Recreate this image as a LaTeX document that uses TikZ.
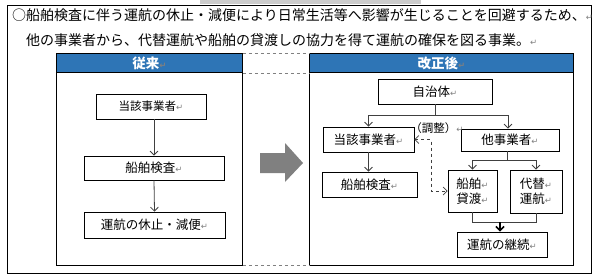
\documentclass[tikz,border=0pt]{standalone}
\usepackage{fontspec}
\usepackage{tikz}
\usetikzlibrary{arrows.meta}
\setmainfont{Noto Sans CJK JP}
\newfontfamily\markfont{DejaVu Sans}
\definecolor{header}{RGB}{46,117,182}
\definecolor{bigarrow}{RGB}{128,128,128}
\definecolor{topbar}{RGB}{204,204,204}
\newcommand{\rt}{{\color{gray}\markfont\fontsize{8.5}{8.5}\selectfont ↵}}

\begin{document}
\begin{tikzpicture}[x=1pt,y=-1pt,
    box/.style={draw,line width=0.8pt,inner sep=0pt,align=center,
                font=\fontsize{12.5}{15}\selectfont},
    head/.style={draw,line width=0.8pt,fill=header,inner sep=0pt,anchor=north west,
                 minimum height=19pt,text=white,font=\fontsize{13.5}{15}\selectfont\bfseries},
    link/.style={draw=black!75,line width=0.8pt,-{Straight Barb[length=4pt,width=8pt]}},
    line/.style={draw=black!75,line width=0.8pt}
    ]
    \useasboundingbox (0,0) rectangle (596,276);
    \fill[topbar] (200,0) rectangle (421,4);
    \draw[line width=0.8pt] (7,5) rectangle (591,273);

    % text lines
    \node[anchor=west,inner sep=0pt,font=\fontsize{14}{16}\selectfont] (line1) at (12,15)
        {○船舶検査に伴う運航の休止・減便により日常生活等へ影響が生じることを回避するため、\rt};
    \node[anchor=west,inner sep=0pt,font=\fontsize{14}{16}\selectfont] (line2) at (26,40)
        {他の事業者から、代替運航や船舶の貸渡しの協力を得て運航の確保を図る事業。\rt};

    % panels
    \node[head,minimum width=186pt] (oldhead) at (56,53) {従来\rt};
    \node[head,minimum width=264pt] (newhead) at (309,53) {改正後\rt};
    \draw[line width=0.8pt] (oldhead.south west) -- (56,265) coordinate (oldbot) -| (oldhead.south east);
    \draw[line width=0.8pt] (newhead.south west) -- (309,265) coordinate (newbot) -| (newhead.south east);
    \draw[gray,dashed] (oldhead.north east) -- (newhead.north west);
    \draw[gray,dashed] (oldhead.south east) -- (newhead.south west);
    \draw[gray,dashed] (oldbot -| oldhead.east) -- (newbot);

    % before
    \node[box,minimum width=110pt,minimum height=25pt,font=\fontsize{11.5}{13}\selectfont] (oldop) at (151,106.5) {当該事業者\rt};
    \node[box,minimum width=140pt,minimum height=24pt] (oldcheck) at (154,168) {船舶検査\rt};
    \node[box,minimum width=141pt,minimum height=26pt] (oldstop) at (154.5,225) {運航の休止・減便\rt};
    \draw[link] (oldop.south -| oldcheck.north) -- (oldcheck.north);
    \draw[link] (oldcheck.south) -- (oldstop.north);

    \fill[bigarrow] (260,153) -- (285,153) -- (285,143) -- (303,163) -- (285,182)
        -- (285,173) -- (260,173) -- cycle;

    % after
    \node[box,minimum width=114pt,minimum height=25pt] (city) at (435,91.5) {自治体\rt};
    \node[box,minimum width=91pt,minimum height=25pt] (newop) at (368.5,139.5) {当該事業者\rt};
    \node[box,minimum width=98pt,minimum height=22pt] (other) at (510,140) {他事業者\rt};
    \node[box,minimum width=95pt,minimum height=25pt] (newcheck) at (369.5,184.5) {船舶検査\rt};
    \node[box,minimum width=49pt,minimum height=42pt] (lend) at (472.5,191) {船舶\rt\\貸渡\rt};
    \node[box,minimum width=52pt,minimum height=43pt] (subst) at (536,191.5) {代替\rt\\運航\rt};
    \node[box,minimum width=90pt,minimum height=25pt] (keep) at (502,244.5) {運航の継続\rt};

    \draw[line] (city.south) -- ++(0,11) coordinate (split1);
    \draw[link] (split1) -| (newop.north);
    \draw[link] (split1) -| ([xshift=-2pt]other.north);
    \draw[link] (newop.south) -- (newop.south |- newcheck.north);
    \draw[line] ([xshift=-3pt]other.south) -- ++(0,9) coordinate (split2);
    \draw[link] (split2) -| (lend.north);
    \draw[link] (split2) -| (subst.north);
    \draw[line] (lend.south) -- ++(0,10) coordinate (merge) -| (subst.south);
    \draw[link,line width=1.6pt,draw=black] (merge -| keep.north) ++(-2,0) -- ([xshift=-2pt]keep.north);
    \coordinate (adjust) at (431,140);
    \draw[link,dashed,line width=0.7pt,{Straight Barb[length=4pt,width=8pt]}-{Straight Barb[length=4pt,width=8pt]}]
        (newop.east) -- (newop.east -| adjust) |- (lend.west);
    \node[font=\fontsize{11.5}{13}\selectfont,inner sep=0pt] (adjlabel) at (437,128) {（調整）\rt};
\end{tikzpicture}
\end{document}
